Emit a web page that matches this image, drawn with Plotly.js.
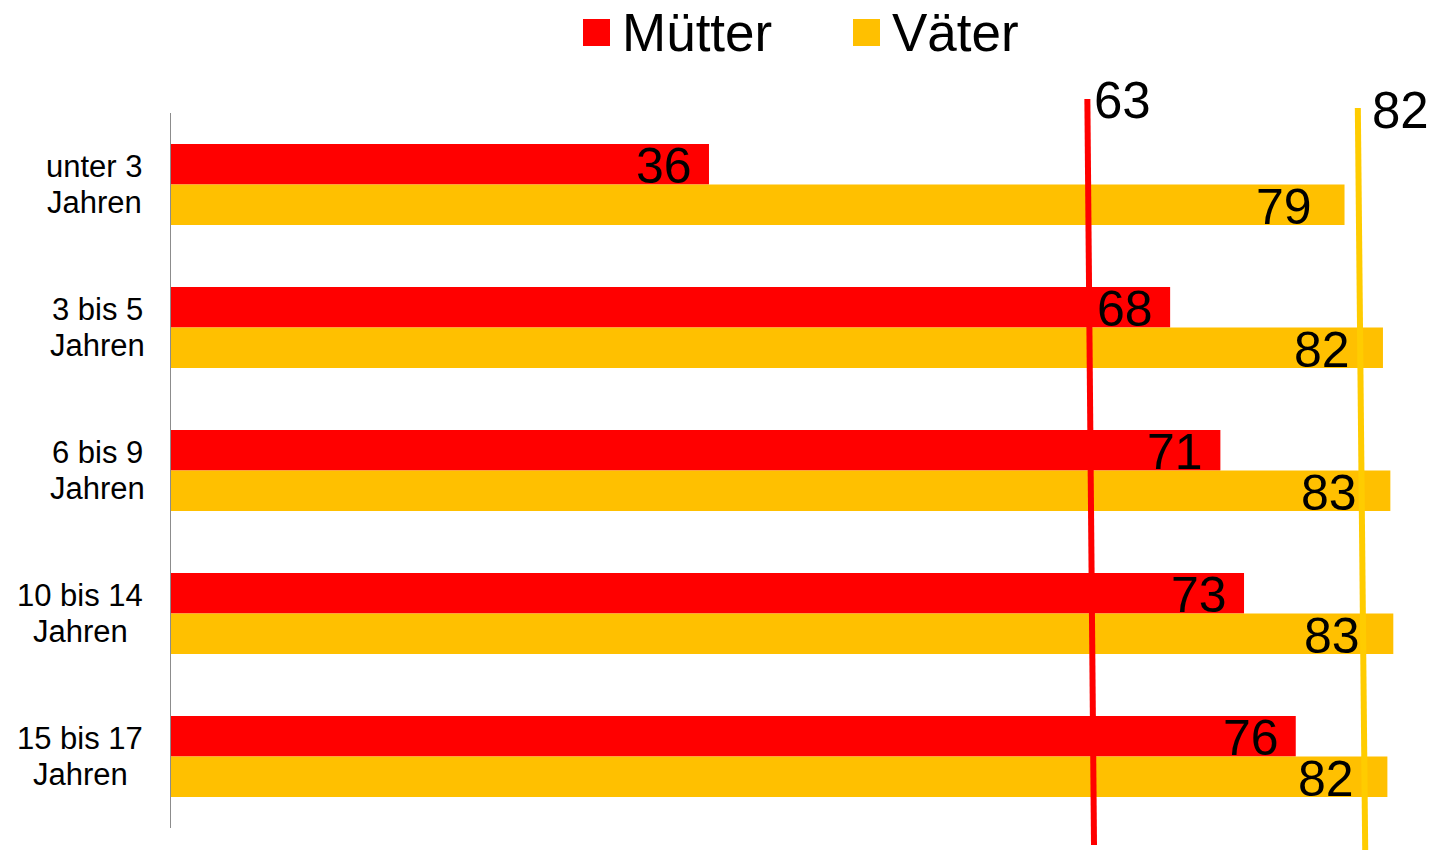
<!DOCTYPE html>
<html>
<head>
<meta charset="utf-8">
<script src="https://cdn.plot.ly/plotly-3.0.1.min.js"></script>
<style>html,body{margin:0;padding:0;background:#fff;}#chart{width:1436px;height:850px;}</style>
</head>
<body>
<div id="chart"></div>
<script>
// ---- data ----
const categories = ['unter 3<br>Jahren', '3 bis 5<br>Jahren', '6 bis 9<br>Jahren', '10 bis 14<br>Jahren', '15 bis 17<br>Jahren'];
const seriesNames = ['Mütter', 'Väter'];
const muetter = [36.4, 67.6, 71.0, 72.6, 76.1];
const vaeter = [79.4, 82.0, 82.5, 82.7, 82.3];
const averages = [63, 82];

// ---- style ----
const FONT = 'Liberation Sans, Arial, Helvetica, sans-serif';
const colors = ['#FF0000', '#FFC000'];
const lineColors = ['#FF0000', '#FFCC00'];
const W = 1436, H = 850;
const M = {l: 171, r: 0, t: 113, b: 22};
const plotW = W - M.l - M.r, plotH = H - M.t - M.b;
const xMax = plotW / 14.78;
const px2x = px => (px - M.l) / plotW;
const py2y = py => (H - M.b - py) / plotH;

const series = [muetter, vaeter];
const traces = series.map((vals, i) => ({
  type: 'bar',
  orientation: 'h',
  name: seriesNames[i],
  x: vals,
  y: categories,
  marker: {color: colors[i], line: {width: 0}},
  hoverinfo: 'none',
  showlegend: false
}));

const annotations = [];
// value labels
series.forEach((vals, i) => {
  vals.forEach((v, j) => {
    annotations.push({
      x: v, y: categories[j], xref: 'x', yref: 'y',
      text: String(Math.round(v)), showarrow: false,
      xanchor: 'right', yanchor: 'middle',
      xshift: i === 0 ? -15 : -31, yshift: i === 0 ? 19 : -22,
      font: {family: FONT, size: 50, color: '#000'}
    });
  });
});
// category labels (two centred lines each)
categories.forEach(c => {
  const lines = c.split('<br>');
  const widest = lines.reduce((a, b) => (a.length >= b.length ? a : b));
  lines.forEach((ln, k) => {
    annotations.push({
      x: 0, y: c, xref: 'paper', yref: 'y', text: ln, showarrow: false,
      xanchor: 'center', yanchor: 'middle', align: 'center',
      xshift: -27 - 0, yshift: k === 0 ? 18 : -18,
      font: {family: FONT, size: 31, color: '#000'},
      _w: widest
    });
  });
});
// legend
const legendSq = [583, 853];
seriesNames.forEach((n, i) => {
  annotations.push({
    x: px2x(legendSq[i] + 37), y: py2y(32), xref: 'paper', yref: 'paper',
    text: n, showarrow: false, xanchor: 'left', yanchor: 'middle',
    font: {family: FONT, size: 53, color: '#000'}
  });
});
// average lines and labels
const lineTop = [{x: 62.0, py: 99}, {x: 80.3, py: 108}];
const lineBot = [{x: 62.45, py: 845}, {x: 80.8, py: 852}];
const avgLabelPy = [100, 110];
const avgLabelShift = [5, 12];
averages.forEach((a, i) => {
  annotations.push({
    x: lineTop[i].x, y: py2y(avgLabelPy[i]), xref: 'x', yref: 'paper',
    text: String(a), showarrow: false, xanchor: 'left', yanchor: 'middle',
    xshift: avgLabelShift[i],
    font: {family: FONT, size: 51, color: '#000'}
  });
});

const shapes = [];
averages.forEach((a, i) => {
  shapes.push({
    type: 'line', xref: 'x', yref: 'paper',
    x0: lineTop[i].x, y0: py2y(lineTop[i].py), x1: lineBot[i].x, y1: py2y(lineBot[i].py),
    line: {color: lineColors[i], width: 6}, layer: 'above'
  });
});
legendSq.forEach((px, i) => {
  shapes.push({
    type: 'rect', xref: 'paper', yref: 'paper',
    x0: px2x(px), x1: px2x(px + 27), y0: py2y(19), y1: py2y(46),
    fillcolor: colors[i], line: {width: 0}
  });
});

const layout = {
  width: W, height: H,
  margin: M,
  paper_bgcolor: '#fff', plot_bgcolor: '#fff',
  barmode: 'group', bargap: 0.4336, bargroupgap: 0,
  showlegend: false,
  xaxis: {range: [0, xMax], visible: false, fixedrange: true},
  yaxis: {autorange: 'reversed', showticklabels: false, ticks: '', showgrid: false,
          zeroline: false, showline: true, linecolor: '#8c8c8c', linewidth: 1, fixedrange: true},
  annotations: annotations.map(a => { const b = Object.assign({}, a); delete b._w; return b; }),
  shapes: shapes,
  font: {family: FONT}
};

// centre each label pair on the centre of its widest line, whose right edge sits at x = 143 px
const gd = document.getElementById('chart');
const measure = document.createElement('canvas').getContext('2d');
measure.font = '31px ' + FONT;
layout.annotations.forEach((a, idx) => {
  const src = annotations[idx];
  if (src._w) {
    const w = measure.measureText(src._w).width;
    a.xshift = -(171 - 143) - w / 2;
  }
});

Plotly.newPlot(gd, traces, layout, {displayModeBar: false, staticPlot: true});
</script>
</body>
</html>
